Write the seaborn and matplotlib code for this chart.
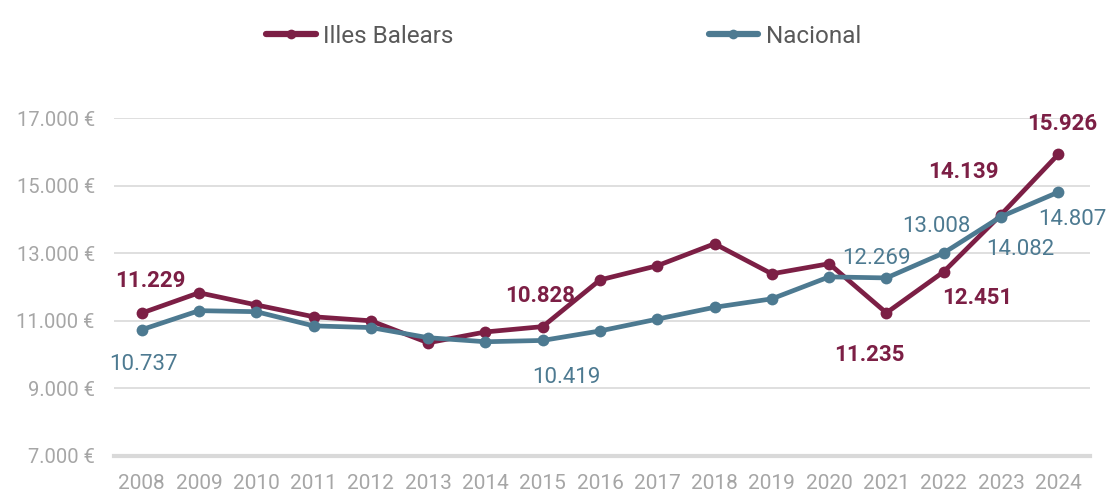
import pandas as pd
import matplotlib
matplotlib.use("Agg")
import matplotlib.pyplot as plt
import seaborn as sns

# Data
years = [str(y) for y in range(2008, 2025)]
baleares = [11229, 11830, 11470, 11120, 11000, 10350, 10670, 10828, 12210,
            12630, 13280, 12390, 12690, 11235, 12451, 14139, 15926]
nacional = [10737, 11300, 11270, 10850, 10800, 10500, 10380, 10419, 10700,
            11050, 11400, 11650, 12300, 12269, 13008, 14082, 14807]
series_names = ["Illes Balears", "Nacional"]
yticks = [7000, 9000, 11000, 13000, 15000, 17000]

# Which points carry a value label (year index)
labelled_baleares = [0, 7, 13, 14, 15, 16]
labelled_nacional = [0, 7, 13, 14, 15, 16]

colors = {"Illes Balears": "#7C1F45", "Nacional": "#4D7A91"}

df = pd.DataFrame({
    "year": years * 2,
    "value": baleares + nacional,
    "serie": [series_names[0]] * len(years) + [series_names[1]] * len(years),
})

sns.set_theme(style="white")
plt.rcParams["font.family"] = ["Roboto", "DejaVu Sans"]

fig = plt.figure(figsize=(11.2, 4.94), dpi=100)
ax = fig.add_axes([0.102, 0.077, 0.871, 0.684])

sns.lineplot(data=df, x="year", y="value", hue="serie", palette=colors,
             marker="o", markersize=8.5, markeredgewidth=0, linewidth=3.4,
             sort=False, ax=ax, legend=True)

ax.set_xlim(-0.48, 16.55)
ax.set_ylim(7000, 17000)
ax.set_yticks(yticks)
ax.set_yticklabels([f"{v:,.0f} €".replace(",", ".") for v in yticks])
ax.set_xlabel("")
ax.set_ylabel("")
ax.grid(axis="y", color="#D9D9D9", linewidth=1.2)
ax.set_axisbelow(True)
for side in ["left", "right", "top"]:
    ax.spines[side].set_visible(False)
ax.spines["bottom"].set_color("#D9D9D9")
ax.spines["bottom"].set_linewidth(3)
ax.tick_params(axis="y", length=0, pad=14, labelsize=14.5, labelcolor="#A6A6A6")
ax.tick_params(axis="x", length=0, pad=13, labelsize=15, labelcolor="#A6A6A6")

# value labels
off_b = {0: (6, 23), 7: (-2, 22), 13: (-12, -30), 14: (24, -19), 15: (-27, 31), 16: (3, 22)}
off_n = {0: (1, -25), 7: (17, -27), 13: (-7, 14), 14: (-5, 19), 15: (14, -24), 16: (10, -20)}
for i in labelled_baleares:
    ax.annotate(f"{baleares[i]:,}".replace(",", "."), (i, baleares[i]),
                xytext=off_b[i], textcoords="offset points", ha="center", va="center",
                fontsize=16, fontweight="bold", color=colors["Illes Balears"])
for i in labelled_nacional:
    ax.annotate(f"{nacional[i]:,}".replace(",", "."), (i, nacional[i]),
                xytext=off_n[i], textcoords="offset points", ha="center", va="center",
                fontsize=16, color=colors["Nacional"])

handles, labels = ax.get_legend_handles_labels()
ax.get_legend().remove()
for h in handles:
    h.set_markersize(7)
    h.set_linewidth(4.5)
fig.legend(handles, labels, loc="center", bbox_to_anchor=(0.503, 0.927), ncol=2,
           frameon=False, fontsize=17.5, handlelength=2.05, handletextpad=0.3,
           columnspacing=10.5, labelcolor="#595959")

fig.savefig("out.png", dpi=100)
plt.close(fig)
